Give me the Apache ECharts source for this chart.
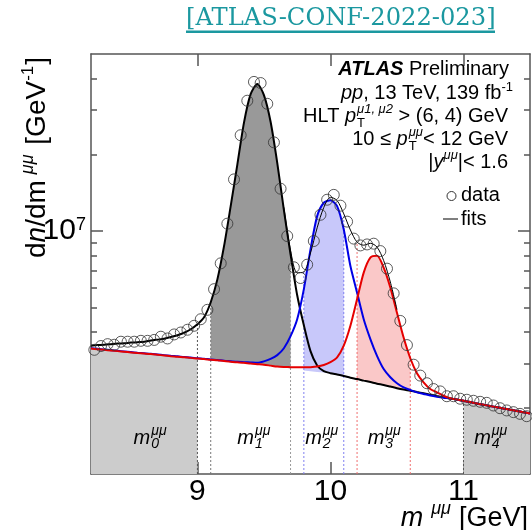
<!DOCTYPE html>
<html><head><meta charset="utf-8">
<script src="https://cdn.jsdelivr.net/npm/echarts@6/dist/echarts.min.js"></script>
<style>html,body{margin:0;padding:0;background:#fff}#c{width:532px;height:530px}</style>
</head><body><div id="c"></div>
<script>
// ---------------- data (values in units of 1e6 per GeV) ----------------
const UNIT = 1e6;
const dataMass = [8.225,8.275,8.325,8.375,8.425,8.475,8.525,8.575,8.625,8.675,
  8.725,8.775,8.825,8.875,8.925,8.975,9.025,9.075,9.125,9.175,
  9.225,9.275,9.325,9.375,9.425,9.475,9.525,9.575,9.625,9.675,
  9.725,9.775,9.825,9.875,9.925,9.975,10.025,10.075,10.125,10.175,
  10.225,10.275,10.325,10.375,10.425,10.475,10.525,10.575,10.625,10.675,
  10.725,10.775,10.825,10.875,10.925,10.975,11.025,11.075,11.125,11.175,
  11.225,11.275,11.325,11.375,11.425,11.475];
const dataCounts = [3.40,3.52,3.58,3.56,3.66,3.66,3.66,3.69,3.69,3.72,
  3.83,3.77,3.91,3.98,4.08,4.23,4.49,4.89,5.90,7.46,
  10.7,16.0,23.9,32.7,38.8,38.4,31.8,22.4,14.7,9.56,
  7.20,6.53,7.37,9.14,11.6,13.3,13.9,12.6,10.9,9.34,
  8.78,8.86,8.92,8.34,7.11,5.68,4.42,3.55,2.97,2.69,
  2.51,2.38,2.33,2.23,2.23,2.18,2.16,2.14,2.12,2.10,
  2.05,2.00,1.96,1.93,1.90,1.86];
const fitMass = [8.20,8.25,8.30,8.35,8.40,8.45,8.50,8.55,8.60,8.65,
  8.70,8.75,8.80,8.85,8.90,8.95,9.00,9.05,9.10,9.15,
  9.20,9.25,9.30,9.35,9.40,9.45,9.50,9.55,9.60,9.65,
  9.70,9.75,9.80,9.85,9.90,9.95,10.00,10.05,10.10,10.15,
  10.20,10.25,10.30,10.35,10.40,10.45,10.50,10.55,10.60,10.65,
  10.70,10.75,10.80,10.85,10.90,10.95,11.00,11.05,11.10,11.15,
  11.20,11.25,11.30,11.35,11.40,11.45,11.50];
const fitBackground = [3.44,3.42,3.40,3.38,3.36,3.34,3.32,3.30,3.285,3.27,
  3.25,3.23,3.21,3.195,3.175,3.16,3.14,3.125,3.105,3.09,
  3.07,3.05,3.035,3.02,3.00,2.985,2.97,2.945,2.92,2.895,
  2.87,2.84,2.82,2.80,2.78,2.765,2.75,2.716,2.68,2.64,
  2.607,2.57,2.536,2.50,2.47,2.435,2.40,2.37,2.345,2.317,
  2.29,2.263,2.235,2.21,2.186,2.163,2.14,2.115,2.088,2.065,
  2.04,2.018,1.995,1.973,1.95,1.929,1.907];
const fit1S = [3.53,3.55,3.56,3.58,3.60,3.61,3.63,3.645,3.66,3.70,
  3.73,3.76,3.82,3.88,3.97,4.10,4.29,4.57,5.24,6.45,
  8.72,12.55,18.3,26.8,34.7,38.1,34.4,27.0,18.6,12.1,
  8.09,5.58,4.25,3.36,2.95,2.80,2.75,2.716,2.68,2.64,
  2.607,2.57,2.536,2.50,2.47,2.435,2.40,2.37,2.345,2.317,
  2.29,2.263,2.235,2.21,2.186,2.163,2.14,2.115,2.088,2.065,
  2.04,2.018,1.995,1.973,1.95,1.929,1.907];
const fit2S = [3.45,3.43,3.41,3.39,3.37,3.35,3.33,3.31,3.295,3.28,
  3.26,3.24,3.22,3.205,3.185,3.17,3.15,3.135,3.115,3.10,
  3.08,3.065,3.05,3.04,3.03,3.02,3.06,3.13,3.24,3.45,
  3.85,4.49,5.90,8.47,11.46,12.94,13.24,12.54,10.15,7.28,
  5.72,4.49,3.75,3.22,2.855,2.65,2.51,2.416,2.36,2.31,
  2.277,2.245,2.22,2.20,2.186,2.163,2.14,2.115,2.088,2.065,
  2.04,2.018,1.995,1.973,1.95,1.929,1.907];
const fit3S = [3.44,3.42,3.40,3.38,3.36,3.34,3.32,3.30,3.285,3.27,
  3.25,3.23,3.21,3.195,3.175,3.16,3.14,3.125,3.105,3.09,
  3.07,3.05,3.035,3.02,3.00,2.985,2.97,2.945,2.92,2.91,
  2.905,2.90,2.90,2.905,2.92,2.96,3.04,3.175,3.53,4.23,
  5.38,6.86,7.86,7.99,7.18,5.99,4.76,3.80,3.15,2.75,
  2.53,2.38,2.31,2.24,2.19,2.163,2.14,2.115,2.088,2.065,
  2.04,2.018,1.995,1.973,1.95,1.929,1.907];
const totalMass = [9.65,9.70,9.75,9.80,9.85,9.90,9.95,10.00,10.05,10.10,10.15,10.20,10.25,10.30,10.35,10.40,10.45,10.50];
const fitTotal = [12.4,8.4,6.85,6.9,8.2,10.3,12.4,13.6,13.2,11.7,10.1,9.05,8.8,8.95,8.65,7.65,6.3,4.9];

const windowNames = ['0','1','2','3','4'];
const windowRanges = [[8.2,9.0],[9.1,9.7],[9.8,10.1],[10.2,10.6],[11.0,11.5]];
const edgeMass = [9.0,9.1,9.7,9.8,10.1,10.2,10.6,11.0];
const edgeTops = [4.29,5.3,8.2,6.9,11.7,9.05,3.4,2.14];

const xTickValues = [9,10,11];
const yMajorTicks = [1e7];
const yMinorTicks = [2e6,3e6,4e6,5e6,6e6,7e6,8e6,9e6,2e7,3e7,4e7];
const Y_MIN = 1.1e6, Y_MAX = 5e7, X_MIN = 8.2, X_MAX = 11.5;

// ---------------- styles ----------------
const FONT = '"Liberation Sans", Arial, sans-serif';
const AX = '#555';
const edgeColors = ['#555','#777','#999','#8080f0','#8080f0','#f07070','#f07070','#555'];
const windowFill = ['#cccccc','#999999','#c8c8fa','#fac8c8','#cccccc'];

const chart = echarts.init(document.getElementById('c'), null, {renderer:'canvas'});

const pair = (xs, ys) => xs.map((x,i)=>[x, ys[i]*UNIT]);

function band(range, upper, lower, color){
  return {
    type:'custom', coordinateSystem:'cartesian2d', z:1, silent:true, clip:true,
    data:[[range[0], Y_MIN]],
    renderItem(params, api){
      const top=[], bot=[];
      fitMass.forEach((m,i)=>{
        if(m>=range[0]-1e-9 && m<=range[1]+1e-9){
          top.push(api.coord([m, upper[i]*UNIT]));
          bot.push(api.coord([m, lower ? lower[i]*UNIT : Y_MIN]));
        }
      });
      return {type:'polygon', shape:{points: top.concat(bot.reverse())}, style:{fill:color}};
    }
  };
}

const series = [];
series.push(band(windowRanges[0], fitBackground, null, windowFill[0]));
series.push(band(windowRanges[1], fit1S, fitBackground, windowFill[1]));
series.push(band(windowRanges[2], fit2S, fitBackground, windowFill[2]));
series.push(band(windowRanges[3], fit3S, fitBackground, windowFill[3]));
series.push(band(windowRanges[4], fitBackground, null, windowFill[4]));
edgeMass.forEach((m,i)=>{
  series.push({type:'line', z:2, silent:true, symbol:'none',
    data:[[m, Y_MIN],[m, edgeTops[i]*UNIT]],
    lineStyle:{color:edgeColors[i], width:1, type:[2,2]}});
});
series.push({type:'line', name:'1S', z:3, symbol:'none', smooth:0.25, data:pair(fitMass, fit1S), lineStyle:{color:'#000', width:2}});
series.push({type:'line', name:'2S', z:3, symbol:'none', smooth:0.25, data:pair(fitMass, fit2S), lineStyle:{color:'#0000e6', width:2}});
series.push({type:'line', name:'3S', z:3, symbol:'none', smooth:0.25, data:pair(fitMass, fit3S), lineStyle:{color:'#e60000', width:2}});
series.push({type:'line', name:'total', z:4, symbol:'none', smooth:0.3, data:pair(totalMass, fitTotal), lineStyle:{color:'#000', width:1}});
series.push({type:'scatter', name:'data', z:5, symbol:'circle', symbolSize:11,
  data:pair(dataMass, dataCounts),
  itemStyle:{color:'rgba(0,0,0,0)', borderColor:'#333', borderWidth:1}});

const xBase = {type:'value', min:X_MIN, max:X_MAX, splitLine:{show:false},
  axisLine:{show:true, onZero:false, lineStyle:{color:AX, width:1.5}},
  axisTick:{show:true, inside:true, length:12, customValues:xTickValues, lineStyle:{color:AX, width:1.5}}};
const yBase = {type:'log', min:Y_MIN, max:Y_MAX, splitLine:{show:false}};

const option = {
  animation:false,
  backgroundColor:'#fff',
  grid:{left:91, right:2, top:54, bottom:56, containLabel:false},
  xAxis:[
    Object.assign({}, xBase, {position:'bottom',
      axisLabel:{show:true, customValues:xTickValues, fontSize:30, fontFamily:FONT, color:'#000', margin:3}}),
    Object.assign({}, xBase, {position:'top', axisLabel:{show:false}})
  ],
  yAxis:[
    Object.assign({}, yBase, {position:'left',
      axisLine:{show:true, lineStyle:{color:AX, width:1.5}},
      axisTick:{show:true, inside:true, length:12, customValues:yMajorTicks, lineStyle:{color:AX, width:1.5}},
      axisLabel:{show:true, customValues:yMajorTicks, margin:5, formatter:()=> '{a|10}{b|7}',
        rich:{a:{fontSize:30, fontFamily:FONT, color:'#000'}, b:{fontSize:18, fontFamily:FONT, color:'#000', verticalAlign:'top'}}}}),
    Object.assign({}, yBase, {position:'left', axisLine:{show:false},
      axisTick:{show:true, inside:true, length:6, customValues:yMinorTicks, lineStyle:{color:AX, width:1.5}},
      axisLabel:{show:false}}),
    Object.assign({}, yBase, {position:'right',
      axisLine:{show:true, lineStyle:{color:AX, width:1.5}},
      axisTick:{show:true, inside:true, length:12, customValues:yMajorTicks, lineStyle:{color:AX, width:1.5}},
      axisLabel:{show:false}}),
    Object.assign({}, yBase, {position:'right', axisLine:{show:false},
      axisTick:{show:true, inside:true, length:6, customValues:yMinorTicks, lineStyle:{color:AX, width:1.5}},
      axisLabel:{show:false}})
  ],
  series: series
};
chart.setOption(option);

// ---------------- text helpers (annotations) ----------------
const mctx = document.createElement('canvas').getContext('2d');
function fontStr(p){ return (p.italic?'italic ':'')+(p.bold?'bold ':'')+p.size+'px '+(p.family||FONT); }
function texLine(parts, x, baseline, align, color){
  let cur=0, lastStart=0; const items=[];
  parts.forEach(p=>{
    mctx.font = fontStr(p);
    const w = mctx.measureText(p.t).width;
    const start = p.stack ? lastStart : cur + (p.gap||0);
    items.push({p, start, w});
    if(!p.stack) lastStart = start;
    cur = Math.max(cur, start + w);
  });
  const x0 = align==='right' ? x-cur : align==='center' ? x-cur/2 : x;
  return items.map(it=>({type:'text', silent:true, z:100,
    x: x0 + it.start, y: baseline + (it.p.dy||0) - 0.35*it.p.size,
    style:{text:it.p.t, fontSize:it.p.size, fontFamily:it.p.family||FONT,
      fontStyle:it.p.italic?'italic':'normal', fontWeight:it.p.bold?'bold':'normal',
      fill: it.p.color||color||'#000', align:'left', verticalAlign:'middle'}}));
}

const S = 20, SS = 13;
const graphics = [];
// header
graphics.push(...texLine([{t:'[ATLAS-CONF-2022-023]', size:24.2, family:'"DejaVu Serif", serif', color:'#1b98a0'}], 186, 27, 'left'));
graphics.push({type:'rect', silent:true, z:100, shape:{x:186, y:30.5, width:309, height:2.5}, style:{fill:'#1b98a0'}});
// top-right text block
graphics.push(...texLine([{t:'ATLAS', size:S, bold:true, italic:true},{t:' Preliminary', size:S}], 509, 76, 'right'));
graphics.push(...texLine([{t:'pp', size:S, italic:true},{t:', 13 TeV, 139 fb', size:S},{t:'-1', size:SS, dy:-8}], 513, 100, 'right'));
graphics.push(...texLine([{t:'HLT ', size:S},{t:'p', size:S, italic:true},{t:'\u03bc1, \u03bc2', size:SS, italic:true, dy:-9, gap:1},{t:'T', size:SS, dy:5, stack:true},{t:' > (6, 4) GeV', size:S}], 508, 123, 'right'));
graphics.push(...texLine([{t:'10 \u2264 ', size:S},{t:'p', size:S, italic:true},{t:'\u03bc\u03bc', size:SS, italic:true, dy:-9, gap:1},{t:'T', size:SS, dy:5, stack:true},{t:'< 12 GeV', size:S}], 508, 146, 'right'));
graphics.push(...texLine([{t:'|', size:S},{t:'y', size:S, italic:true},{t:'\u03bc\u03bc', size:SS, italic:true, dy:-9},{t:'|< 1.6', size:S}], 508, 169, 'right'));
// legend
graphics.push({type:'circle', silent:true, z:100, shape:{cx:451.5, cy:196, r:4.5}, style:{fill:'none', stroke:'#333', lineWidth:1}});
graphics.push(...texLine([{t:'data', size:S}], 461, 202, 'left'));
graphics.push({type:'line', silent:true, z:100, shape:{x1:443, y1:219, x2:458, y2:219}, style:{stroke:'#555', lineWidth:1.5}});
graphics.push(...texLine([{t:'fits', size:S}], 461, 226, 'left'));

// window labels anchored in data space
const windowLabelStart = [8.52, 9.30, 9.81, 10.28, 11.08];
const windowLabelLevel = 1.43e6;
windowNames.forEach((n,i)=>{
  const p = chart.convertToPixel({xAxisIndex:0, yAxisIndex:0}, [windowLabelStart[i], windowLabelLevel]);
  graphics.push(...texLine([{t:'m', size:20, italic:true},{t:'\u03bc\u03bc', size:14, italic:true, dy:-9, gap:1},{t:n, size:14, italic:true, dy:4, stack:true}], p[0], p[1], 'left'));
});

// axis titles
graphics.push(...texLine([{t:'m', size:27, italic:true},{t:'\u03bc\u03bc', size:18, italic:true, dy:-13, gap:8},{t:'[GeV]', size:27, gap:8}], 528, 528, 'right'));
const yTitle = texLine([{t:'d', size:28},{t:'n', size:28, italic:true},{t:'/dm', size:28},{t:'\u03bc\u03bc', size:18, italic:true, dy:-13, gap:6},{t:' [GeV', size:28, gap:2},{t:'-1', size:17, dy:-13},{t:']', size:28, gap:1}], 0, 0, 'left');
graphics.push({type:'group', x:47, y:258, z:100, rotation:Math.PI/2, children:yTitle});

chart.setOption({graphic: graphics});
</script></body></html>
